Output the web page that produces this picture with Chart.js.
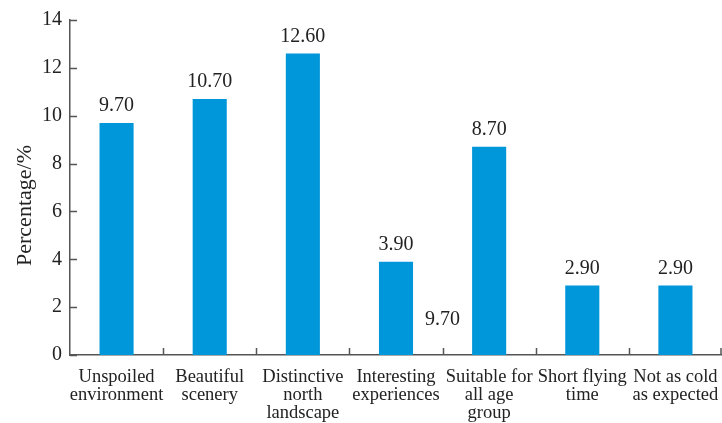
<!DOCTYPE html>
<html>
<head>
<meta charset="utf-8">
<script src="https://cdn.jsdelivr.net/npm/chart.js@4.4.0/dist/chart.umd.min.js"></script>
<style>
  html, body { margin: 0; padding: 0; background: #fff; }
  #wrap { width: 722px; height: 423px; }
</style>
</head>
<body>
<div id="wrap"><canvas id="c" width="722" height="423"></canvas></div>
<script>
// Survey reasons and their share of responses (%)
const categories = [
  ['Unspoiled', 'environment'],
  ['Beautiful', 'scenery'],
  ['Distinctive', 'north', 'landscape'],
  ['Interesting', 'experiences'],
  ['Suitable for', 'all age', 'group'],
  ['Short flying', 'time'],
  ['Not as cold', 'as expected']
];
const percentages = [9.7, 10.7, 12.6, 3.9, 8.7, 2.9, 2.9];
const valueLabels = ['9.70', '10.70', '12.60', '3.90', '8.70', '2.90', '2.90'];
// Extra annotation printed between the 4th and 5th groups
const extraLabel = { text: '9.70', index: 3.5, value: 1.55 };
const yTicks = [0, 2, 4, 6, 8, 10, 12, 14];
const yTitle = 'Percentage/%';

const FONT = "'Liberation Serif', 'Times New Roman', serif";
const AXIS = '#555555';
const INK = '#222222';

// Short inward tick marks, the value labels above bars and the y-axis title
const decorations = {
  id: 'decorations',
  afterDatasetsDraw(chart) {
    const { ctx, scales: { x, y }, chartArea } = chart;
    ctx.save();
    ctx.strokeStyle = AXIS;
    ctx.lineWidth = 1.5;
    ctx.beginPath();
    yTicks.forEach(v => {
      const py = Math.round(y.getPixelForValue(v)) + 0.5;
      ctx.moveTo(chartArea.left, py);
      ctx.lineTo(chartArea.left + 7, py);
    });
    for (let i = 1; i <= categories.length; i++) {
      const px = Math.min(Math.round(x.getPixelForValue(i - 0.5)) + 0.5, chart.width - 1);
      ctx.moveTo(px, chartArea.bottom);
      ctx.lineTo(px, chartArea.bottom - 7);
    }
    ctx.stroke();

    ctx.fillStyle = INK;
    ctx.font = '20px ' + FONT;
    ctx.textAlign = 'center';
    ctx.textBaseline = 'alphabetic';
    const meta = chart.getDatasetMeta(0);
    meta.data.forEach((bar, i) => {
      ctx.fillText(valueLabels[i], bar.x, bar.y - 12);
    });
    ctx.fillText(extraLabel.text, x.getPixelForValue(extraLabel.index),
                 y.getPixelForValue(extraLabel.value) + 7);

    // rotated axis title
    ctx.font = '22px ' + FONT;
    ctx.textBaseline = 'middle';
    ctx.translate(chartArea.left - 45, (chartArea.top + chartArea.bottom) / 2 + 18);
    ctx.rotate(-Math.PI / 2);
    ctx.fillText(yTitle, 0, 0);
    ctx.restore();
  }
};

new Chart(document.getElementById('c'), {
  type: 'bar',
  data: {
    labels: categories,
    datasets: [{
      data: percentages,
      backgroundColor: '#0096DA',
      borderWidth: 0,
      barPercentage: 0.366,
      categoryPercentage: 1.0
    }]
  },
  options: {
    responsive: false,
    animation: false,
    devicePixelRatio: 1,
    layout: { padding: { top: 19, right: 0, left: 0, bottom: 0 } },
    plugins: {
      legend: { display: false },
      tooltip: { enabled: false }
    },
    scales: {
      x: {
        offset: true,
        grid: { display: false, drawTicks: false },
        border: { display: true, color: AXIS, width: 1.5 },
        ticks: {
          color: INK,
          font: { family: FONT, size: 18.5, lineHeight: 0.98 },
          padding: 13,
          maxRotation: 0,
          autoSkip: false
        },
        afterFit(s) { s.height = 68; s.paddingLeft = 0; s.paddingRight = 0; }
      },
      y: {
        min: 0,
        max: 14,
        grid: { display: false, drawTicks: false },
        border: { display: true, color: AXIS, width: 1.5 },
        ticks: {
          stepSize: 2,
          color: INK,
          font: { family: FONT, size: 20 },
          padding: 8
        },
        afterFit(s) { s.width = 70; }
      }
    }
  },
  plugins: [decorations]
});
</script>
</body>
</html>
